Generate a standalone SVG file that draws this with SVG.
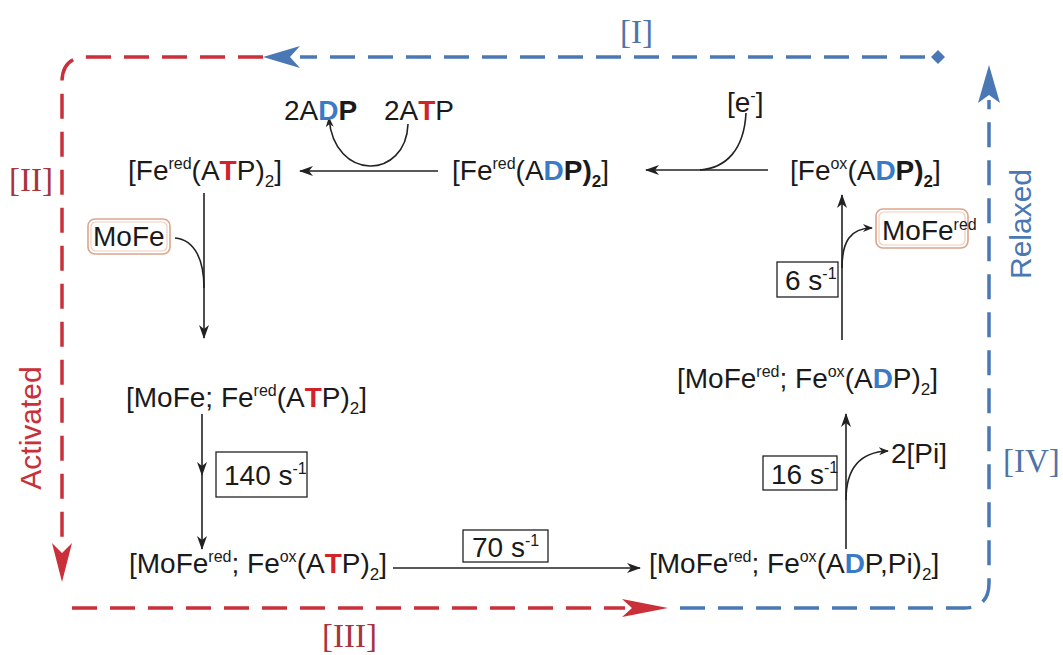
<svg xmlns="http://www.w3.org/2000/svg" width="1063" height="655" viewBox="0 0 1063 655">
<style>
.t{font-family:"Liberation Sans",Arial,sans-serif;font-size:28px;fill:#1a1a1a}
.sup{font-size:16px}
.sub{font-size:17px}
.T{fill:#d0232a;font-weight:bold}
.D{fill:#3a7bc8;font-weight:bold}
.b{font-weight:bold}
.rn{font-family:"Liberation Serif","Times New Roman",serif;font-size:33px}
.rr{fill:#a8343c}
.rb{fill:#4f74a8}
.lab{font-family:"Liberation Sans",Arial,sans-serif;font-size:30px}
.dash{fill:none;stroke-width:3.5;stroke-dasharray:25 13}
.red{stroke:#c9303a}
.blue{stroke:#4a78b5}
.conn{fill:none;stroke:#222;stroke-width:1.6}
.box{fill:none;stroke:#222;stroke-width:1.3}
.mo1{fill:#fff;stroke:#dca48c;stroke-width:1.6}
.mo2{fill:none;stroke:#f0cdbd;stroke-width:1.2}
</style>
<defs>
<marker id="ah" viewBox="0 0 14 10" refX="13" refY="5" markerWidth="14" markerHeight="10" markerUnits="userSpaceOnUse" orient="auto"><path d="M0,0 L14,5 L0,10 L4,5 z" fill="#222"/></marker>
<marker id="ahs" viewBox="0 0 10 8" refX="9" refY="4" markerWidth="10" markerHeight="8" markerUnits="userSpaceOnUse" orient="auto"><path d="M0,0 L10,4 L0,8 L3,4 z" fill="#222"/></marker>
</defs>

<g id="cycle-frame">
<path class="dash red" d="M263,57 H87 Q62,57 62,82 V545"/>
<polygon fill="#c9303a" points="62,582 52,543 62,553 72,543"/>
<path class="dash red" d="M72,608 H625"/>
<polygon fill="#c9303a" points="668,608 622,599 632,608 622,617"/>
<path class="dash blue" d="M680,608 H964 Q989,608 989,583 V100"/>
<polygon fill="#4a78b5" points="989,65 978,103 989,95 1000,103"/>
<path class="dash blue" d="M925,57 H300"/>
<polygon fill="#4a78b5" points="263,57 300,46 290,57 300,68"/>
<polygon fill="#4a78b5" points="938,50 945,57 938,64 931,57"/>
</g>

<g id="labels">
<text class="rn rb" x="620" y="43">[I]</text>
<text class="rn rr" x="9" y="191">[II]</text>
<text class="rn rr" x="322" y="647">[III]</text>
<text class="rn rb" x="1003" y="472">[IV]</text>
<text class="lab" fill="#c9303a" transform="translate(41,428) rotate(-90)" text-anchor="middle">Activated</text>
<text class="lab" fill="#4a78b5" transform="translate(1031,224) rotate(-90)" text-anchor="middle">Relaxed</text>
</g>

<g id="connectors">
<path class="conn" d="M438,171 H300" marker-end="url(#ah)"/>
<path class="conn" d="M408,124 C406,180 334,182 329,118" marker-end="url(#ahs)"/>
<path class="conn" d="M768,170 H646" marker-end="url(#ah)"/>
<path class="conn" d="M746,113 C744,150 726,168 700,170"/>
<path class="conn" d="M204,193 V338" marker-end="url(#ah)"/>
<path class="conn" d="M175,238 C196,240 204,262 204,288"/>
<path class="conn" d="M202,414 V475" marker-end="url(#ah)"/>
<path class="conn" d="M202,475 V549" marker-end="url(#ah)"/>
<path class="conn" d="M393,568 H640" marker-end="url(#ah)"/>
<path class="conn" d="M846,549 V414" marker-end="url(#ah)"/>
<path class="conn" d="M846,500 C846,470 858,452 888,451" marker-end="url(#ahs)"/>
<path class="conn" d="M842,340 V195" marker-end="url(#ah)"/>
<path class="conn" d="M842,268 C842,242 850,228 872,228" marker-end="url(#ahs)"/>
</g>

<g id="n-adp-atp">
<text class="t" font-size="29" x="284" y="120">2A<tspan class="D">D</tspan><tspan class="b">P</tspan></text>
<text class="t" font-size="29" x="384" y="120">2A<tspan class="T">T</tspan>P</text>
</g>
<g id="n-e">
<text class="t" x="727" y="112">[e<tspan class="sup" dy="-11">-</tspan><tspan dy="11">]</tspan></text>
</g>
<g id="n-fered-atp">
<text class="t" x="128" y="180">[Fe<tspan class="sup" dy="-11">red</tspan><tspan dy="11">(A</tspan><tspan class="T">T</tspan>P)<tspan class="sub" dy="7">2</tspan><tspan dy="-7">]</tspan></text>
</g>
<g id="n-fered-adp">
<text class="t" x="452" y="180">[Fe<tspan class="sup" dy="-11">red</tspan><tspan dy="11">(A</tspan><tspan class="D">D</tspan><tspan class="b">P)</tspan><tspan class="sub b" dy="7">2</tspan><tspan dy="-7">]</tspan></text>
</g>
<g id="n-feox-adp">
<text class="t" x="790" y="180">[Fe<tspan class="sup" dy="-11">ox</tspan><tspan dy="11">(A</tspan><tspan class="D">D</tspan><tspan class="b">P)</tspan><tspan class="sub b" dy="7">2</tspan><tspan dy="-7">]</tspan></text>
</g>
<g id="n-mofe">
<rect class="mo1" x="88" y="219" width="82" height="35" rx="7"/>
<rect class="mo2" x="91" y="222" width="76" height="29" rx="5"/>
<text class="t" x="93" y="246">MoFe</text>
</g>
<g id="n-mofe-fered-atp">
<text class="t" x="126" y="407">[MoFe; Fe<tspan class="sup" dy="-11">red</tspan><tspan dy="11">(A</tspan><tspan class="T">T</tspan>P)<tspan class="sub" dy="7">2</tspan><tspan dy="-7">]</tspan></text>
</g>
<g id="r-140">
<rect class="box" x="216" y="452" width="91" height="45"/>
<text class="t" x="224" y="485">140 s<tspan class="sup" dy="-11">-1</tspan></text>
</g>
<g id="n-mofered-feox-atp">
<text class="t" x="129" y="573">[MoFe<tspan class="sup" dy="-11">red</tspan><tspan dy="11">; Fe</tspan><tspan class="sup" dy="-11">ox</tspan><tspan dy="11">(A</tspan><tspan class="T">T</tspan>P)<tspan class="sub" dy="7">2</tspan><tspan dy="-7">]</tspan></text>
</g>
<g id="r-70">
<rect class="box" x="463" y="530" width="85" height="32"/>
<text class="t" x="472" y="557">70 s<tspan class="sup" dy="-11">-1</tspan></text>
</g>
<g id="n-mofered-feox-adppi">
<text class="t" x="649" y="573">[MoFe<tspan class="sup" dy="-11">red</tspan><tspan dy="11">; Fe</tspan><tspan class="sup" dy="-11">ox</tspan><tspan dy="11">(A</tspan><tspan class="D">D</tspan>P,Pi)<tspan class="sub" dy="7">2</tspan><tspan dy="-7">]</tspan></text>
</g>
<g id="r-16">
<rect class="box" x="763" y="456" width="74" height="34"/>
<text class="t" x="771" y="484">16 s<tspan class="sup" dy="-11">-1</tspan></text>
</g>
<g id="n-pi">
<text class="t" x="891" y="463">2[Pi]</text>
</g>
<g id="n-mofered-feox-adp">
<text class="t" x="677" y="388">[MoFe<tspan class="sup" dy="-11">red</tspan><tspan dy="11">; Fe</tspan><tspan class="sup" dy="-11">ox</tspan><tspan dy="11">(A</tspan><tspan class="D">D</tspan>P)<tspan class="sub" dy="7">2</tspan><tspan dy="-7">]</tspan></text>
</g>
<g id="r-6">
<rect class="box" x="777" y="262" width="61" height="35"/>
<text class="t" x="785" y="290">6 s<tspan class="sup" dy="-11">-1</tspan></text>
</g>
<g id="n-mofered">
<rect class="mo1" x="876" y="209" width="92" height="39" rx="7"/>
<rect class="mo2" x="879" y="212" width="86" height="33" rx="5"/>
<text class="t" font-size="26" x="882" y="240">MoFe<tspan class="sup" font-size="15" dy="-10">red</tspan></text>
</g>
</svg>
